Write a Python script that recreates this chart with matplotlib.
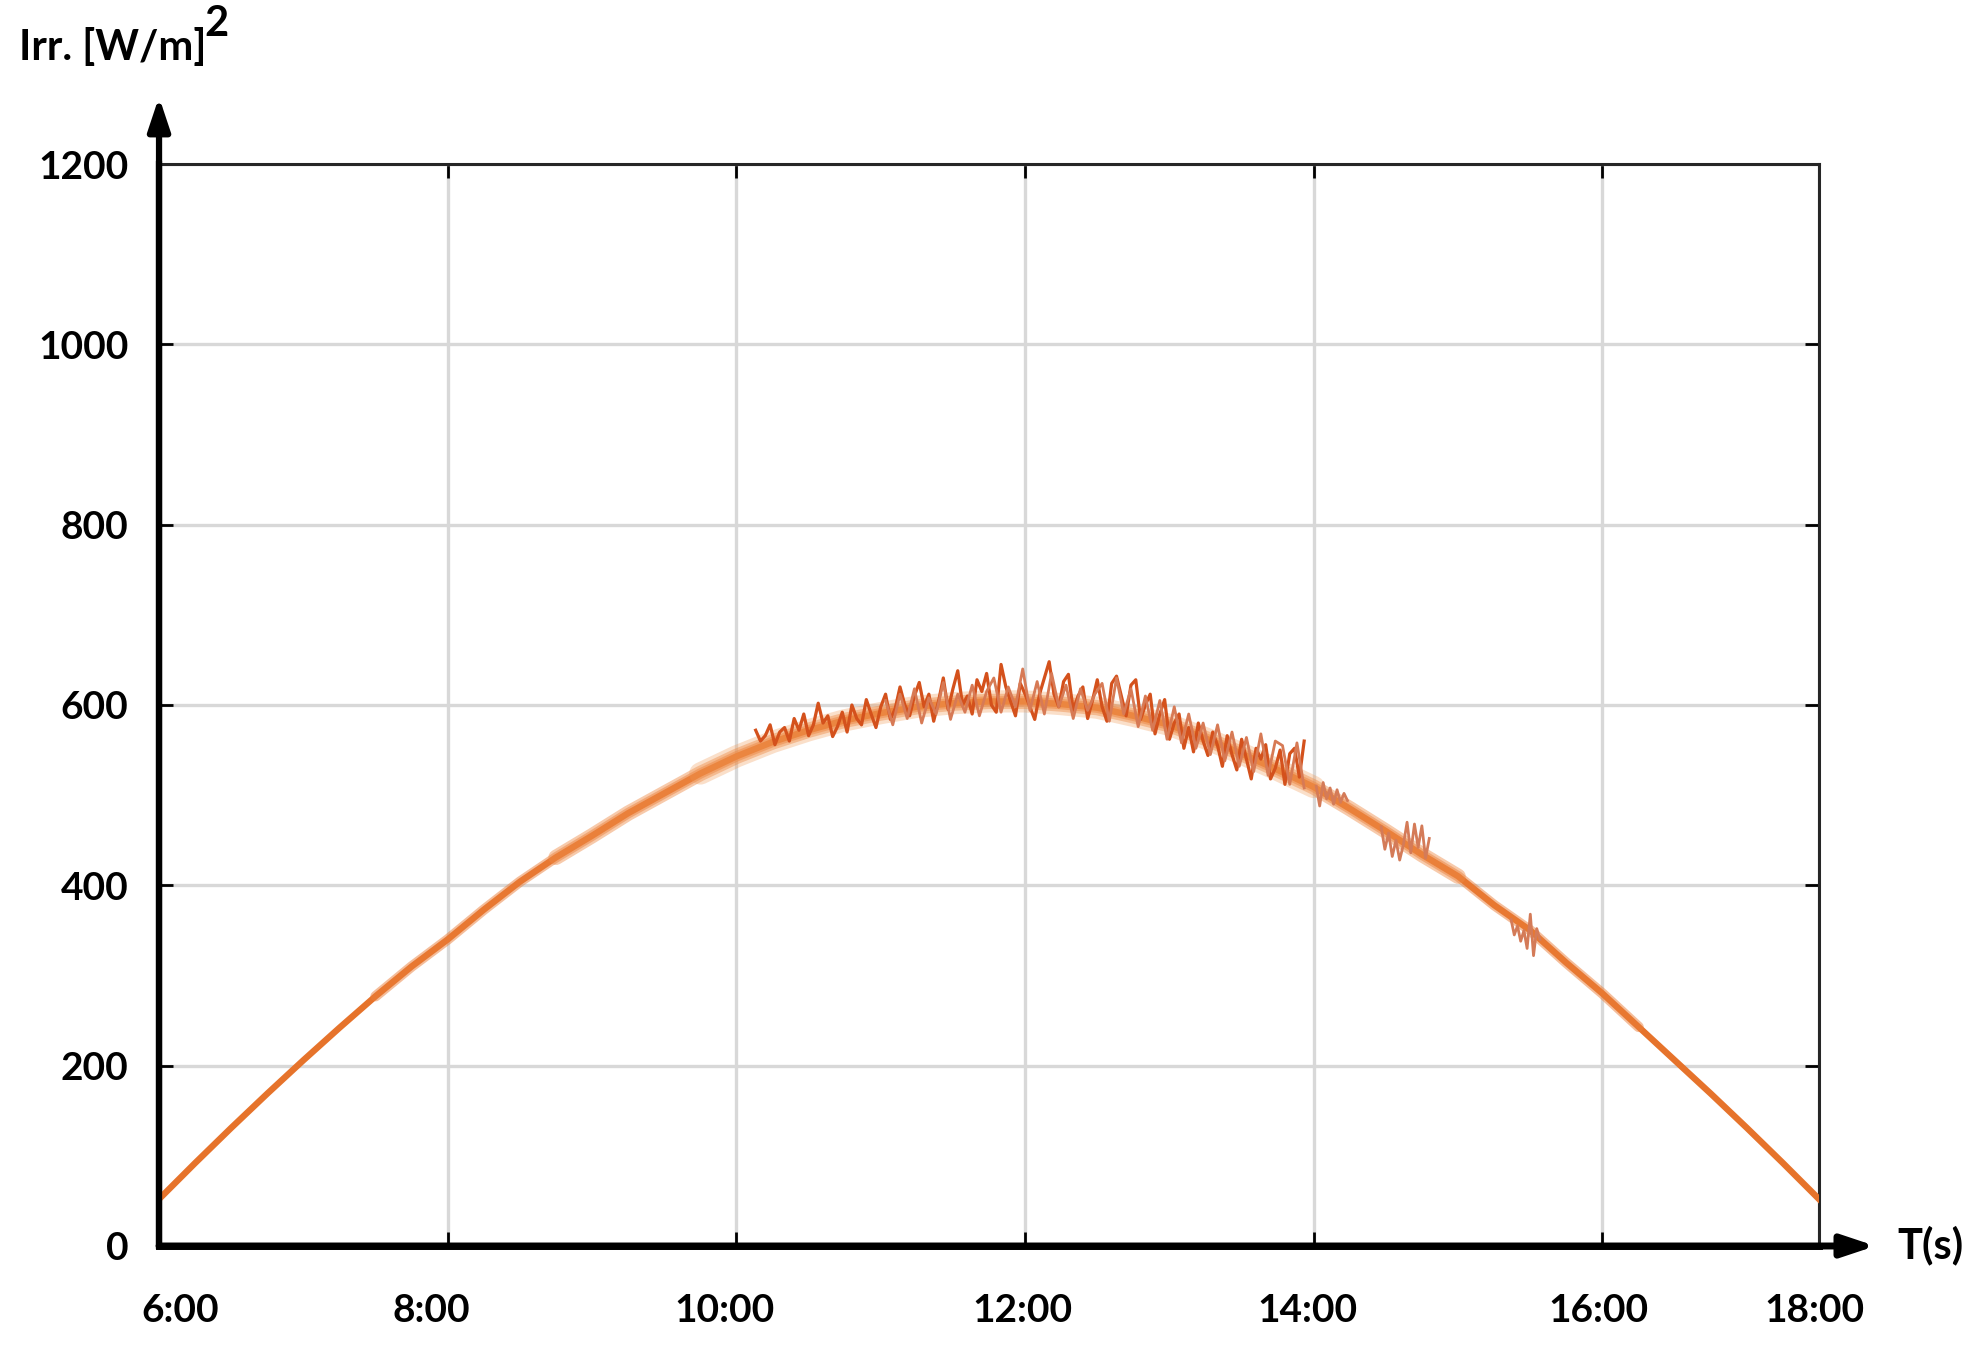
import numpy as np
import matplotlib
matplotlib.use('Agg')
import matplotlib.pyplot as plt
import matplotlib.transforms as mtransforms

plt.rcParams['font.family'] = ['Lato', 'DejaVu Sans']
plt.rcParams['font.weight'] = 'bold'

# time axis in hours after 6:00
tick_hours = [0, 2, 4, 6, 8, 10, 11.5]
tick_labels = ['6:00', '8:00', '10:00', '12:00', '14:00', '16:00', '18:00']

# smooth irradiance band, one value every 15 min (6:00 -> 17:30)
base_t = np.linspace(0, 11.5, 47)
base_irr = [52, 92, 131, 169, 206, 242, 277, 310, 340, 373, 404, 431,
            455, 480, 502, 524, 543, 559, 572, 583, 591, 598, 602, 604,
            604, 601, 597, 588, 578, 563, 546, 528, 509, 485, 460, 434,
            410, 378, 350, 314, 280, 243, 206, 169, 131, 92, 52]

# dark noisy trace, every 2 min, 10:08 -> 13:56
dark_t = np.linspace(4 + 8/60, 7 + 56/60, 115)
dark_irr = [572, 560, 566, 578, 556, 570, 575, 560, 585, 572, 590, 566, 578, 602, 580,
            588, 565, 576, 592, 570, 600, 585, 578, 606, 590, 575, 598, 612, 584, 596,
            620, 600, 588, 610, 625, 598, 612, 582, 604, 630, 595, 618, 638, 600, 610,
            590, 628, 615, 635, 600, 592, 645, 620, 604, 588, 624, 612, 598, 584, 612,
            630, 648, 612, 598, 626, 634, 594, 610, 620, 585, 605, 628, 598, 582, 624,
            632, 610, 588, 622, 628, 584, 600, 612, 568, 590, 606, 562, 580, 590, 552,
            575, 548, 580, 560, 544, 570, 555, 532, 566, 545, 528, 562, 540, 518, 552,
            540, 556, 518, 530, 550, 512, 546, 552, 520, 560]

# lighter noisy trace, every 3 min, 11:02 -> 13:56
light_t = np.linspace(5 + 2/60, 7 + 56/60, 59)
light_irr = [605, 578, 612, 585, 618, 580, 608, 590, 625, 584, 612, 592, 622, 588, 615,
             630, 592, 620, 598, 640, 594, 626, 590, 635, 598, 622, 585, 618, 594, 612,
             624, 582, 630, 590, 618, 576, 610, 572, 605, 562, 598, 558, 590, 552, 580,
             545, 578, 538, 570, 532, 564, 526, 568, 522, 560, 555, 512, 558, 508]

# short noisy bursts in the afternoon
burst1_t = np.linspace(8 + 1/60, 8 + 14/60, 10)
burst1_irr = [510, 488, 514, 496, 508, 490, 506, 492, 502, 494]
burst2_t = np.linspace(8 + 28/60, 8 + 48/60, 14)
burst2_irr = [465, 440, 458, 432, 450, 428, 445, 470, 436, 468, 442, 466, 430, 452]
burst3_t = np.linspace(9 + 22/60, 9 + 34/60, 10)
burst3_irr = [362, 345, 355, 338, 350, 330, 368, 322, 352, 340]

fig = plt.figure(figsize=(19.83, 13.61), dpi=100)
ax = fig.add_axes([0.0802, 0.0845, 0.8371, 0.795])

# thick band: solid core plus soft halo in the middle of the day
ax.plot(base_t, base_irr, color='#E6732B', lw=4.6, zorder=3)
ax.plot(base_t[6:42], base_irr[6:42], color='#EA7D38', lw=7.5, alpha=0.5,
        solid_capstyle='round', zorder=3)
ax.plot(base_t[11:37], base_irr[11:37], color='#EE8A45', lw=11, alpha=0.45,
        solid_capstyle='round', zorder=3)
ax.plot(base_t[15:33], base_irr[15:33], color='#F0954F', lw=16, alpha=0.3,
        solid_capstyle='round', zorder=3)

ax.plot(dark_t, dark_irr, color='#D4511C', lw=2.3, zorder=4)
ax.plot(light_t, light_irr, color='#D77A55', lw=2.0, zorder=4)
for bt, bi in [(burst1_t, burst1_irr), (burst2_t, burst2_irr), (burst3_t, burst3_irr)]:
    ax.plot(bt, bi, color='#D47B58', lw=2.0, zorder=4)

ax.set_xlim(0, 11.5)
ax.set_ylim(0, 1200)
ax.set_xticks(tick_hours)
ax.set_xticklabels(tick_labels)
ax.set_yticks([0, 200, 400, 600, 800, 1000, 1200])

ax.grid(True, color='#D8D8D8', lw=2.4)
ax.set_axisbelow(True)

ax.tick_params(direction='in', length=10, width=2, top=True, right=True, labelsize=28)
ax.tick_params(axis='x', pad=34)
ax.tick_params(axis='y', pad=22)

# nudge the x labels to where the original puts them
shifts = [0.21, -0.16, -0.12, -0.03, -0.06, -0.04, -0.05]
for lab, dx in zip(ax.get_xticklabels(), shifts):
    lab.set_transform(lab.get_transform() +
                      mtransforms.ScaledTranslation(dx, 0, fig.dpi_scale_trans))

for side in ['top', 'right']:
    ax.spines[side].set_linewidth(2.2)
    ax.spines[side].set_color('#262626')
ax.spines['left'].set_linewidth(4.5)
ax.spines['bottom'].set_linewidth(5)

# axis arrows
ax.annotate('', xy=(0, 1.062), xytext=(0, 0), xycoords='axes fraction',
            arrowprops=dict(arrowstyle='-|>,head_length=0.9,head_width=0.3', lw=4.5,
                            color='black', shrinkA=0, shrinkB=0, mutation_scale=22),
            annotation_clip=False)
ax.annotate('', xy=(1.034, 0), xytext=(0, 0), xycoords='axes fraction',
            arrowprops=dict(arrowstyle='-|>,head_length=0.9,head_width=0.3', lw=5,
                            color='black', shrinkA=0, shrinkB=0, mutation_scale=22),
            annotation_clip=False)

fig.text(19/1983, 1 - 47/1361, 'Irr. [W/m]', fontsize=30, va='center', ha='left')
fig.text(204/1983, 1 - 24/1361, '2', fontsize=30, va='center', ha='left')
fig.text(1897/1983, 1 - 1245/1361, 'T(s)', fontsize=30, va='center', ha='left')

plt.savefig('out.png', dpi=100)
